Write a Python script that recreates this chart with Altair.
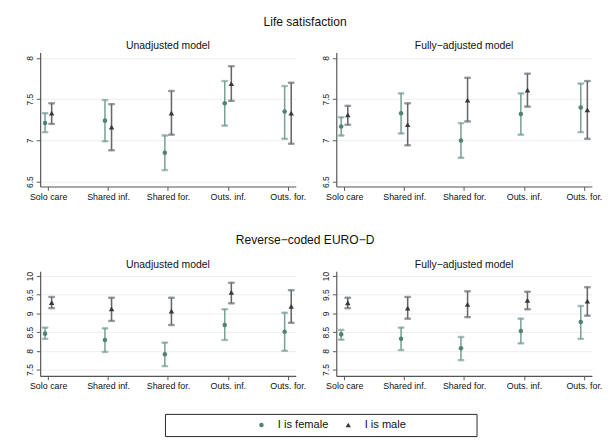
import json
import altair as alt
import pandas as pd

cats = ["Solo care", "Shared inf.", "Shared for.", "Outs. inf.", "Outs. for."]
sexes = ["I is female", "I is male"]

# Life satisfaction - Unadjusted model
ls_un_f_est = [7.21, 7.24, 6.85, 7.45, 7.35]
ls_un_f_lo = [7.10, 6.99, 6.64, 7.18, 7.02]
ls_un_f_hi = [7.33, 7.49, 7.06, 7.72, 7.66]
ls_un_m_est = [7.33, 7.16, 7.33, 7.69, 7.33]
ls_un_m_lo = [7.20, 6.88, 7.07, 7.48, 6.96]
ls_un_m_hi = [7.45, 7.44, 7.60, 7.90, 7.70]
# Life satisfaction - Fully-adjusted model
ls_fa_f_est = [7.17, 7.33, 7.00, 7.32, 7.40]
ls_fa_f_lo = [7.06, 7.085, 6.79, 7.07, 7.10]
ls_fa_f_hi = [7.28, 7.57, 7.21, 7.57, 7.69]
ls_fa_m_est = [7.31, 7.19, 7.49, 7.61, 7.37]
ls_fa_m_lo = [7.19, 6.94, 7.23, 7.41, 7.02]
ls_fa_m_hi = [7.42, 7.45, 7.76, 7.81, 7.72]
# Reverse-coded EURO-D - Unadjusted model
ed_un_f_est = [8.46, 8.29, 7.91, 8.69, 8.51]
ed_un_f_lo = [8.32, 7.97, 7.59, 8.29, 8.00]
ed_un_f_hi = [8.62, 8.60, 8.22, 9.11, 9.02]
ed_un_m_est = [9.29, 9.12, 9.06, 9.56, 9.19]
ed_un_m_lo = [9.14, 8.80, 8.69, 9.27, 8.75]
ed_un_m_hi = [9.44, 9.42, 9.42, 9.82, 9.62]
# Reverse-coded EURO-D - Fully-adjusted model
ed_fa_f_est = [8.44, 8.32, 8.07, 8.53, 8.77]
ed_fa_f_lo = [8.30, 8.02, 7.75, 8.20, 8.32]
ed_fa_f_hi = [8.56, 8.62, 8.37, 8.86, 9.20]
ed_fa_m_est = [9.28, 9.14, 9.24, 9.35, 9.33]
ed_fa_m_lo = [9.14, 8.86, 8.90, 9.11, 8.94]
ed_fa_m_hi = [9.42, 9.44, 9.59, 9.58, 9.70]

ls_ticks = [6.5, 7, 7.5, 8]
ed_ticks = [7.5, 8, 8.5, 9, 9.5, 10]

FONT = "Liberation Sans"
PT_COLORS = ["#508373", "#383838"]
CI_COLORS = ["#7ba395", "#676767"]

color_scale = alt.Scale(domain=sexes, range=PT_COLORS)
shape_scale = alt.Scale(domain=sexes, range=["circle", "triangle-up"])
size_scale = alt.Scale(domain=sexes, range=[22, 32])


def make_df(f_est, f_lo, f_hi, m_est, m_lo, m_hi):
    rows = []
    for sex, est, lo, hi in [(sexes[0], f_est, f_lo, f_hi), (sexes[1], m_est, m_lo, m_hi)]:
        for i, c in enumerate(cats):
            rows.append({"idx": i + 1, "cat": c, "sex": sex, "est": est[i], "lo": lo[i], "hi": hi[i]})
    return pd.DataFrame(rows)


label_expr = json.dumps(cats) + "[datum.value - 1]"


def panel(df, title, ydom, yvals, h):
    base = alt.Chart(df).transform_calculate(
        xp="datum.idx + (datum.sex == 'I is female' ? -0.052 : 0.058)"
    )
    x = alt.X(
        "xp:Q",
        scale=alt.Scale(domain=[0.866, 5.134], nice=False, zero=False),
        axis=alt.Axis(values=[1, 2, 3, 4, 5], labelExpr=label_expr, grid=False, title=None,
                      labelFontSize=9.2, labelPadding=2),
    )
    yscale = alt.Scale(domain=ydom, nice=False, zero=False)
    yaxis = alt.Axis(values=yvals, title=None, labelAngle=270, labelFontSize=8.8,
                     grid=True, labelPadding=2, format="~g")
    ci_stroke = alt.Stroke("sex:N", scale=alt.Scale(domain=sexes, range=CI_COLORS), legend=None)
    rule = base.mark_rule(strokeWidth=1.6).encode(
        x=x, y=alt.Y("lo:Q", scale=yscale, axis=yaxis), y2="hi:Q", stroke=ci_stroke
    )
    cap_lo = base.mark_tick(orient="horizontal", size=6, thickness=1.4).encode(
        x=x, y=alt.Y("lo:Q", scale=yscale, axis=yaxis), stroke=ci_stroke
    )
    cap_hi = base.mark_tick(orient="horizontal", size=6, thickness=1.4).encode(
        x=x, y=alt.Y("hi:Q", scale=yscale, axis=yaxis), stroke=ci_stroke
    )
    pts = base.mark_point(filled=True, opacity=1).encode(
        x=x,
        y=alt.Y("est:Q", scale=yscale, axis=yaxis),
        color=alt.Color("sex:N", scale=color_scale, legend=None),
        shape=alt.Shape("sex:N", scale=shape_scale, legend=None),
        size=alt.Size("sex:N", scale=size_scale, legend=None),
    )
    return alt.layer(rule, cap_lo, cap_hi, pts).properties(
        width=265, height=h,
        title=alt.Title(title, fontSize=10.8, fontWeight="normal", font=FONT, offset=1.5, color="#111"),
    )


ls_un = panel(make_df(ls_un_f_est, ls_un_f_lo, ls_un_f_hi, ls_un_m_est, ls_un_m_lo, ls_un_m_hi),
              "Unadjusted model", [6.44, 8.067], ls_ticks, 139)
ls_fa = panel(make_df(ls_fa_f_est, ls_fa_f_lo, ls_fa_f_hi, ls_fa_m_est, ls_fa_m_lo, ls_fa_m_hi),
              "Fully\u2212adjusted model", [6.44, 8.067], ls_ticks, 139)
ed_un = panel(make_df(ed_un_f_est, ed_un_f_lo, ed_un_f_hi, ed_un_m_est, ed_un_m_lo, ed_un_m_hi),
              "Unadjusted model", [7.33, 10.13], ed_ticks, 108.6)
ed_fa = panel(make_df(ed_fa_f_est, ed_fa_f_lo, ed_fa_f_hi, ed_fa_m_est, ed_fa_m_lo, ed_fa_m_hi),
              "Fully\u2212adjusted model", [7.33, 10.13], ed_ticks, 108.6)

top = alt.hconcat(ls_un, ls_fa, spacing=42, bounds="flush").properties(
    title=alt.Title("Life satisfaction", fontSize=12.5, fontWeight="normal", font=FONT,
                    anchor="middle", dx=-9, offset=13, color="#111")
)
bottom = alt.hconcat(ed_un, ed_fa, spacing=42, bounds="flush").properties(
    title=alt.Title("Reverse\u2212coded EURO\u2212D", fontSize=12.5, fontWeight="normal", font=FONT,
                    anchor="middle", dx=-9, offset=13, color="#111")
)
panels = alt.vconcat(top, bottom, spacing=33.7)

# Legend drawn as a small boxed key chart
leg_df = pd.DataFrame({"sex": sexes})
leg_x = alt.X("sex:N", scale=alt.Scale(domain=sexes, range=[55, 235]), axis=None)
leg_pts = alt.Chart(leg_df).mark_point(filled=True, opacity=1).encode(
    x=leg_x, y=alt.value(11.5),
    color=alt.Color("sex:N", scale=color_scale, legend=None),
    shape=alt.Shape("sex:N", scale=shape_scale, legend=None),
    size=alt.Size("sex:N", scale=size_scale, legend=None),
)
leg_txt = alt.Chart(leg_df).mark_text(
    align="left", baseline="middle", dx=17, fontSize=11.5, font=FONT, color="#111"
).encode(x=leg_x, y=alt.value(11.5), text="sex:N")
legend_box = alt.layer(leg_pts, leg_txt).properties(
    width=323, height=23,
    view=alt.ViewBackground(stroke="#222", strokeWidth=1, fill="white"),
)

chart = alt.vconcat(panels, legend_box, spacing=22.7, center=True).resolve_scale(
    color="shared", shape="shared", size="shared"
).properties(
    padding={"left": 18, "top": 0, "right": 5, "bottom": 5},
    background="white",
).configure_view(
    stroke=None
).configure_axis(
    labelFont=FONT, labelColor="#111", domainColor="#555", tickColor="#555",
    domainWidth=1.2, tickWidth=1, tickSize=4, gridColor="#ececec", gridWidth=1,
)

chart.save("out.html", embed_options={"renderer": "svg", "actions": False})
